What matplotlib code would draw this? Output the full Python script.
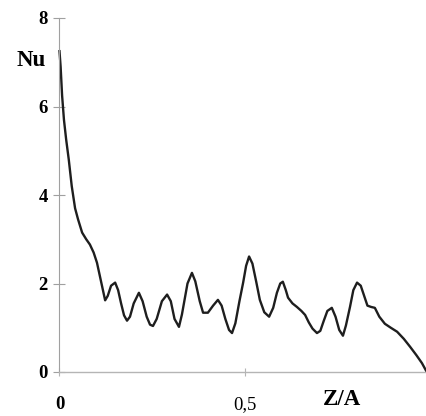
import matplotlib
matplotlib.use('Agg')
import matplotlib.pyplot as plt
import numpy as np

# Nusselt number along the channel, Z/A from inlet
z = [0.000, 0.003, 0.007, 0.012, 0.018, 0.025, 0.033, 0.042, 0.050, 0.061,
     0.072, 0.082, 0.092, 0.101, 0.108, 0.115, 0.123, 0.130, 0.139, 0.150,
     0.158, 0.166, 0.174, 0.182, 0.190, 0.200, 0.214, 0.224, 0.235, 0.244,
     0.252, 0.262, 0.276, 0.290, 0.300, 0.310, 0.322, 0.330, 0.345, 0.357,
     0.366, 0.378, 0.387, 0.400, 0.414, 0.427, 0.437, 0.447, 0.457, 0.465,
     0.474, 0.485, 0.495, 0.503, 0.511, 0.520, 0.530, 0.540, 0.552, 0.565,
     0.576, 0.586, 0.595, 0.602, 0.610, 0.616, 0.628, 0.640, 0.652, 0.662,
     0.672, 0.682, 0.694, 0.703, 0.712, 0.722, 0.734, 0.744, 0.754, 0.764,
     0.772, 0.783, 0.792, 0.802, 0.812, 0.820, 0.830, 0.840, 0.850, 0.862,
     0.877, 0.893, 0.910, 0.928, 0.945, 0.962, 0.977, 0.990]
nu = [7.25, 6.90, 6.25, 5.70, 5.25, 4.80, 4.20, 3.70, 3.45, 3.15,
      3.00, 2.88, 2.70, 2.47, 2.20, 1.93, 1.62, 1.72, 1.95, 2.02,
      1.85, 1.55, 1.28, 1.16, 1.25, 1.55, 1.79, 1.60, 1.25, 1.07,
      1.04, 1.20, 1.60, 1.75, 1.60, 1.20, 1.02, 1.30, 2.00, 2.24,
      2.05, 1.60, 1.34, 1.34, 1.50, 1.63, 1.50, 1.20, 0.95, 0.88,
      1.10, 1.60, 2.02, 2.40, 2.61, 2.45, 2.05, 1.63, 1.35, 1.25,
      1.45, 1.79, 2.00, 2.04, 1.85, 1.68, 1.55, 1.47, 1.38, 1.29,
      1.12, 0.98, 0.88, 0.93, 1.15, 1.38, 1.45, 1.25, 0.95, 0.82,
      1.05, 1.47, 1.85, 2.02, 1.95, 1.75, 1.50, 1.47, 1.45, 1.25,
      1.09, 1.00, 0.91, 0.75, 0.57, 0.38, 0.20, 0.00]

yticks = [0, 2, 4, 6, 8]
xticks = [0, 0.5]
xticklabels = ['0', '0,5']

plt.rcParams['font.family'] = 'Liberation Serif'

fig = plt.figure(figsize=(4.26, 4.16), dpi=100)
ax = fig.add_axes([59.5 / 426, 44 / 416, 371 / 426, 354 / 416])

ax.plot(z, nu, color='#1e1e1e', lw=1.7, solid_joinstyle='round', clip_on=False)

ax.set_xlim(0, 1)
ax.set_ylim(0, 8)

for s in ['top', 'right']:
    ax.spines[s].set_visible(False)
ax.spines['left'].set_color('#a0a0a0')
ax.spines['left'].set_linewidth(0.8)
ax.spines['bottom'].set_color('#b5b5b5')
ax.spines['bottom'].set_linewidth(1.0)

ax.set_yticks(yticks)
ax.set_yticklabels([str(t) for t in yticks], fontweight='bold')
ax.set_xticks(xticks)
ax.set_xticklabels(xticklabels)
ax.get_xticklabels()[0].set_fontweight('bold')
ax.tick_params(axis='y', direction='inout', length=9, width=0.8, color='#a0a0a0',
               pad=4, labelsize=13.5)
ax.tick_params(axis='x', direction='inout', length=6, width=0.8, color='#b5b5b5',
               pad=14, labelsize=13.5)

ax.text(-0.077, 7.03, 'Nu', fontsize=16.5, fontweight='bold', ha='center', va='center')
ax.text(0.761, -0.63, 'Z/A', fontsize=16.5, fontweight='bold', ha='center', va='center')

fig.savefig('out.png', dpi=100)
